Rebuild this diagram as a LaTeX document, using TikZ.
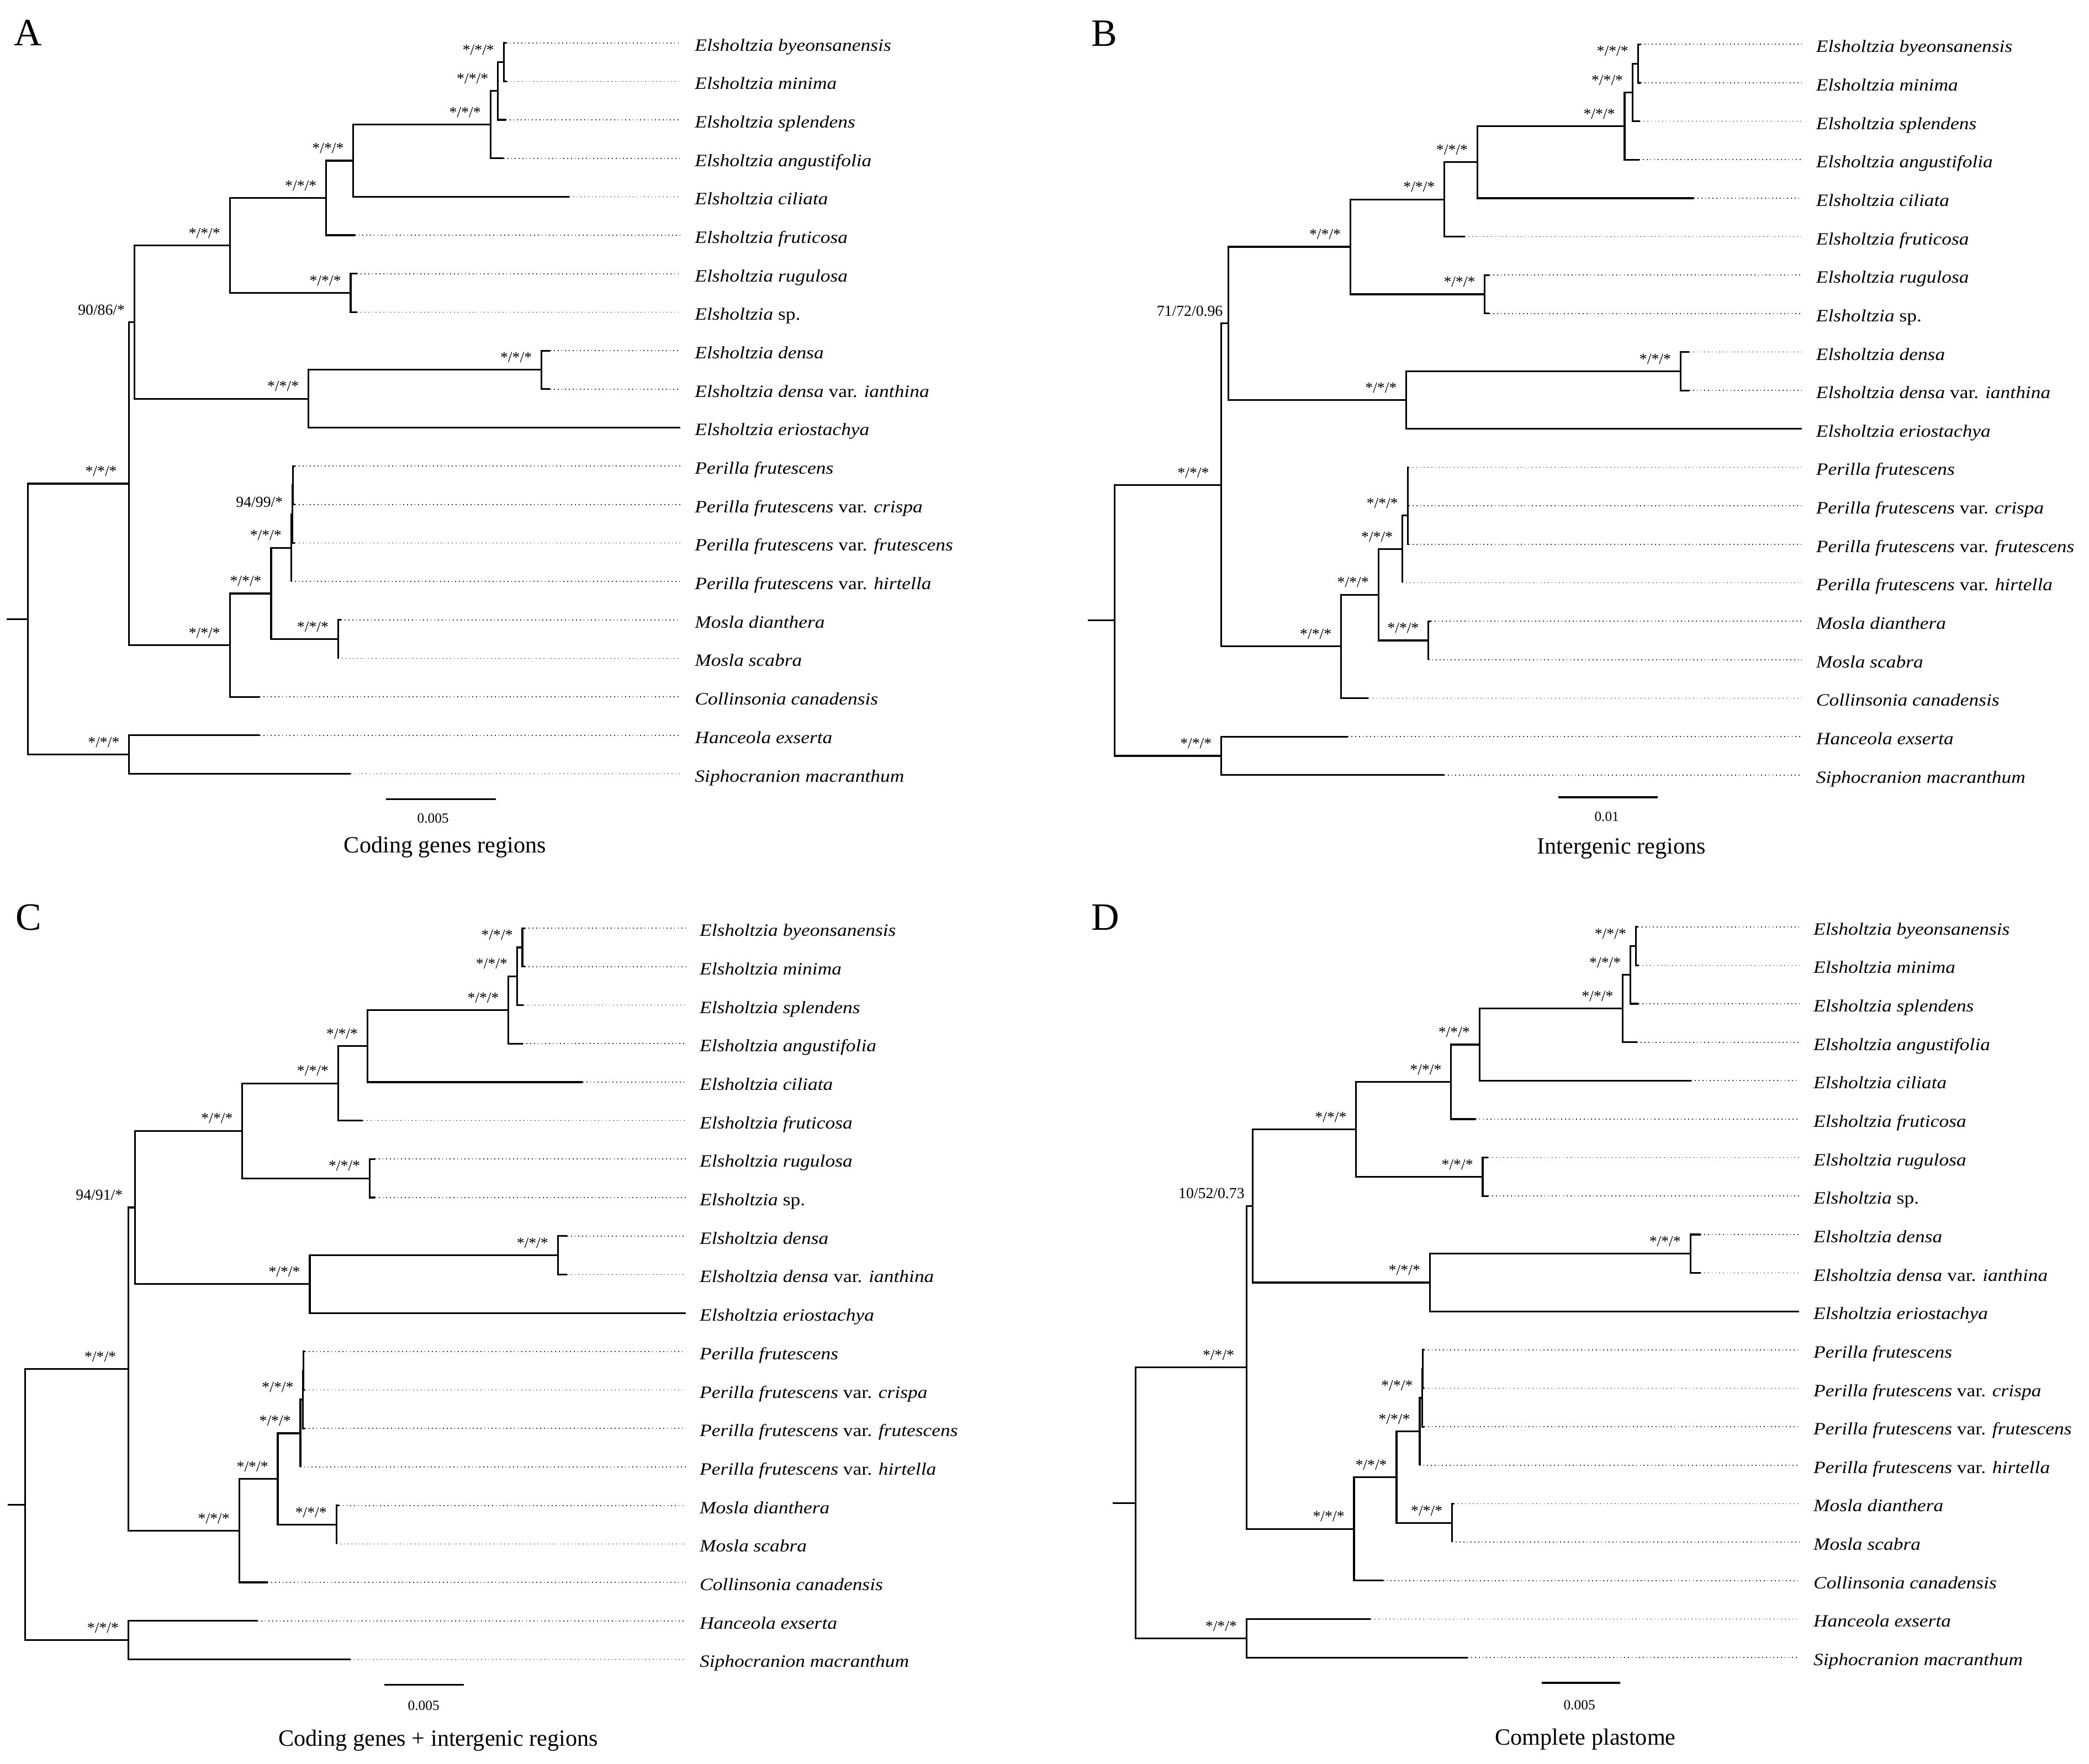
\documentclass[tikz,border=0pt]{standalone}
\usepackage{fontspec}
\setmainfont{Liberation Serif}
\newfontfamily\taxf[FakeStretch=1.13]{Liberation Serif}
\usetikzlibrary{calc}

\newcommand\ti[1]{{\itshape #1}}
\newcommand\taxname[1]{\ifcase#1\or
\ti{Elsholtzia byeonsanensis}\or
\ti{Elsholtzia minima}\or
\ti{Elsholtzia splendens}\or
\ti{Elsholtzia angustifolia}\or
\ti{Elsholtzia ciliata}\or
\ti{Elsholtzia fruticosa}\or
\ti{Elsholtzia rugulosa}\or
\ti{Elsholtzia} sp.\or
\ti{Elsholtzia densa}\or
\ti{Elsholtzia densa} var. \ti{ianthina}\or
\ti{Elsholtzia eriostachya}\or
\ti{Perilla frutescens}\or
\ti{Perilla frutescens} var. \ti{crispa}\or
\ti{Perilla frutescens} var. \ti{frutescens}\or
\ti{Perilla frutescens} var. \ti{hirtella}\or
\ti{Mosla dianthera}\or
\ti{Mosla scabra}\or
\ti{Collinsonia canadensis}\or
\ti{Hanceola exserta}\or
\ti{Siphocranion macranthum}\fi}

% tip: name, branch end x, y, dotted end x, label x, text
\newcommand\tipd[6]{%
  \coordinate (#1) at (#2,#3);
  \coordinate (#1e) at (#4,#3);
  \draw[dl] (#1) -- (#1e);
  \node[tx] (#1l) at (#5,#3) {#6};}
% clade: parent, child1, child2
\newcommand\clade[3]{\draw[br] (#2) -| (#1) |- (#3);}
% support label
\newcommand\supl[3][-7pt]{\node[sup, xshift=#1] (#2s) at (#2) {#3};}

% prefix, Elsholtzia label, its xshift, Perilla label
\newcommand\treeedges[4]{%
  \clade{#1E6}{#11}{#12}
  \clade{#1E5}{#1E6}{#13}
  \clade{#1E4}{#1E5}{#14}
  \clade{#1E3}{#1E4}{#15}
  \clade{#1E2}{#1E3}{#16}
  \clade{#1E7}{#17}{#18}
  \clade{#1E1}{#1E2}{#1E7}
  \clade{#1E9}{#19}{#110}
  \clade{#1E8}{#1E9}{#111}
  \clade{#1El}{#1E1}{#1E8}
  \clade{#1Pc}{#112}{#113}
  \clade{#1Pb}{#1Pc}{#114}
  \clade{#1Pa}{#1Pb}{#115}
  \clade{#1M}{#116}{#117}
  \clade{#1P1}{#1Pa}{#1M}
  \clade{#1P0}{#1P1}{#118}
  \clade{#1I}{#1El}{#1P0}
  \clade{#1O}{#119}{#120}
  \clade{#1R}{#1I}{#1O}
  \draw[br] (#1Rs) -- (#1R);
  \supl{#1E6}{*/*/*}
  \supl{#1E5}{*/*/*}
  \supl{#1E4}{*/*/*}
  \supl{#1E3}{*/*/*}
  \supl{#1E2}{*/*/*}
  \supl{#1E1}{*/*/*}
  \supl{#1E7}{*/*/*}
  \supl{#1E9}{*/*/*}
  \supl{#1E8}{*/*/*}
  \supl[#3]{#1El}{#2}
  \supl{#1Pb}{#4}
  \supl{#1Pa}{*/*/*}
  \supl{#1M}{*/*/*}
  \supl{#1P1}{*/*/*}
  \supl{#1P0}{*/*/*}
  \supl[-9pt]{#1I}{*/*/*}
  \supl{#1O}{*/*/*}
}

\begin{document}
\begin{tikzpicture}[x=1pt,y=-1pt,
  br/.style={line width=1.3pt},
  dl/.style={line width=0.7pt, black!80, dash pattern=on 0.7pt off 2.1pt},
  tx/.style={anchor=base west, inner sep=0pt, yshift=-6pt, font=\taxf\fontsize{13}{15}\selectfont},
  sup/.style={anchor=base east, inner sep=0pt, yshift=5.5pt, font=\fontsize{11.5}{13}\selectfont},
  bar/.style={line width=1.5pt},
  sclab/.style={anchor=base, inner sep=0pt, font=\fontsize{10.5}{12}\selectfont},
  ttl/.style={anchor=base, inner sep=0pt, font=\fontsize{17.5}{20}\selectfont},
  plab/.style={anchor=base west, inner sep=0pt, font=\fontsize{29}{32}\selectfont}]
\useasboundingbox (0,0) rectangle (1568,1324);

%%%%%%%%%%%%%%%% Panel A
\node[plab] (labA) at (10.4,34.3) {A};
\foreach \i/\xb in {1/380.0,2/380.5,3/379.7,4/378.1,5/427.4,6/266.5,7/268,8/268,9/413,10/413,11/510.6,12/221.5,13/221.5,14/221.5,15/218.5,16/256,17/253.8,18/194.9,19/194.9,20/263.2}{
  \pgfmathsetmacro\yy{32.2+28.88*(\i-1)}
  \tipd{a\i}{\xb}{\yy}{510.6}{521.4}{\taxname{\i}}}
\coordinate (aE6) at (378.1,46.65);
\coordinate (aE5) at (373.7,68.3);
\coordinate (aE4) at (368.1,93.55);
\coordinate (aE3) at (265.2,120.6);
\coordinate (aE2) at (244.8,148.6);
\coordinate (aE7) at (263.2,219.95);
\coordinate (aE1) at (172.5,184.3);
\coordinate (aE9) at (406.4,277.65);
\coordinate (aE8) at (231.5,299.3);
\coordinate (aEl) at (100.9,241.8);
\coordinate (aPc) at (219.8,364.35);
\coordinate (aPb) at (219.5,386.0);
\coordinate (aPa) at (218.5,411.25);
\coordinate (aM) at (253.8,479.85);
\coordinate (aP1) at (203.5,445.55);
\coordinate (aP0) at (172.5,484.4);
\coordinate (aI) at (96.9,363.1);
\coordinate (aO) at (96.9,566.45);
\coordinate (aR) at (21.0,464.8);
\coordinate (aRs) at (5.0,464.8);
\treeedges{a}{90/86/*}{-7pt}{94/99/*}
\coordinate (asb1) at (289.8,600);
\coordinate (asb2) at (372.1,600);
\draw[bar] (asb1) -- (asb2);
\node[sclab] (asbl) at (325,617.6) {0.005};
\node[ttl] (attl) at (334,640.1) {Coding genes regions};

%%%%%%%%%%%%%%%% Panel B
\node[plab] (labB) at (819,34.7) {B};
\foreach \i/\xb in {1/1231.5,2/1231.5,3/1230.8,4/1230.4,5/1271.4,6/1099.5,7/1118,8/1118,9/1268,10/1268,11/1352.6,12/1057.5,13/1057.5,14/1057.5,15/1052.6,16/1074,17/1072.2,18/1027.2,19/1011.6,20/1083.9}{
  \pgfmathsetmacro\yy{33.3+28.87*(\i-1)}
  \tipd{b\i}{\xb}{\yy}{1352.6}{1363}{\taxname{\i}}}
\coordinate (bE6) at (1229.4,47.75);
\coordinate (bE5) at (1225.4,69.4);
\coordinate (bE4) at (1219.4,94.65);
\coordinate (bE3) at (1108.9,121.7);
\coordinate (bE2) at (1084.2,149.7);
\coordinate (bE7) at (1114.5,220.95);
\coordinate (bE1) at (1013.6,185.3);
\coordinate (bE9) at (1261.4,278.7);
\coordinate (bE8) at (1055.6,300.35);
\coordinate (bEl) at (922.0,242.8);
\coordinate (bPc) at (1056.8,365.3);
\coordinate (bPb) at (1056.6,386.95);
\coordinate (bPa) at (1052.6,412.2);
\coordinate (bM) at (1072.2,480.8);
\coordinate (bP1) at (1034.6,446.5);
\coordinate (bP0) at (1006.6,485.3);
\coordinate (bI) at (916.7,364.05);
\coordinate (bO) at (916.7,567.4);
\coordinate (bR) at (836.7,465.7);
\coordinate (bRs) at (816.4,465.7);
\treeedges{b}{71/72/0.96}{-4pt}{*/*/*}
\coordinate (bsb1) at (1169.8,598.6);
\coordinate (bsb2) at (1244.4,598.6);
\draw[bar] (bsb1) -- (bsb2);
\node[sclab] (bsbl) at (1206,616.5) {0.01};
\node[ttl] (bttl) at (1217,641) {Intergenic regions};

%%%%%%%%%%%%%%%% Panel C
\node[plab] (labC) at (11.7,698.4) {C};
\foreach \i/\xb in {1/394,2/394,3/393,4/392.4,5/437.4,6/272.5,7/281.5,8/281.5,9/425.7,10/425.7,11/514.6,12/229,13/229,14/229,15/225.5,16/254.5,17/252.5,18/200.9,19/193.2,20/263.1}{
  \pgfmathsetmacro\yy{696.8+28.89*(\i-1)}
  \tipd{c\i}{\xb}{\yy}{514.6}{525}{\taxname{\i}}}
\coordinate (cE6) at (392.1,711.25);
\coordinate (cE5) at (388.1,732.9);
\coordinate (cE4) at (381.7,758.2);
\coordinate (cE3) at (275.8,785.3);
\coordinate (cE2) at (253.8,813.3);
\coordinate (cE7) at (277.5,884.55);
\coordinate (cE1) at (181.9,848.9);
\coordinate (cE9) at (418.7,942.35);
\coordinate (cE8) at (232.5,964.0);
\coordinate (cEl) at (101.3,906.45);
\coordinate (cPc) at (227.7,1029.05);
\coordinate (cPb) at (227.5,1050.7);
\coordinate (cPa) at (225.5,1076.0);
\coordinate (cM) at (252.5,1144.6);
\coordinate (cP1) at (208.5,1110.3);
\coordinate (cP0) at (179.5,1149.1);
\coordinate (cI) at (96.3,1027.8);
\coordinate (cO) at (96.3,1231.25);
\coordinate (cR) at (19.0,1129.5);
\coordinate (cRs) at (6.0,1129.5);
\treeedges{c}{94/91/*}{-9pt}{*/*/*}
\coordinate (csb1) at (288.5,1264.8);
\coordinate (csb2) at (348.1,1264.8);
\draw[bar] (csb1) -- (csb2);
\node[sclab] (csbl) at (318,1284) {0.005};
\node[ttl] (cttl) at (329,1311) {Coding genes + intergenic regions};

%%%%%%%%%%%%%%%% Panel D
\node[plab] (labD) at (819,698.4) {D};
\foreach \i/\xb in {1/1229.5,2/1230,3/1229.8,4/1228.8,5/1269.4,6/1107.5,7/1117.2,8/1117.2,9/1276.4,10/1276.4,11/1350.5,12/1069,13/1069,14/1069,15/1065.6,16/1091.5,17/1089.9,18/1038.2,19/1028.9,20/1101.5}{
  \pgfmathsetmacro\yy{695.8+28.87*(\i-1)}
  \tipd{d\i}{\xb}{\yy}{1350.5}{1361}{\taxname{\i}}}
\coordinate (dE6) at (1227.8,710.25);
\coordinate (dE5) at (1223.8,731.9);
\coordinate (dE4) at (1218.1,757.15);
\coordinate (dE3) at (1110.5,784.2);
\coordinate (dE2) at (1089.2,812.2);
\coordinate (dE7) at (1112.9,883.45);
\coordinate (dE1) at (1017.9,847.8);
\coordinate (dE9) at (1268.8,941.2);
\coordinate (dE8) at (1073.2,962.85);
\coordinate (dEl) at (940.3,905.3);
\coordinate (dPc) at (1067.8,1027.8);
\coordinate (dPb) at (1067.6,1049.45);
\coordinate (dPa) at (1065.6,1074.7);
\coordinate (dM) at (1089.9,1143.3);
\coordinate (dP1) at (1048.2,1109.0);
\coordinate (dP0) at (1016.3,1147.8);
\coordinate (dI) at (935.6,1026.55);
\coordinate (dO) at (935.6,1229.95);
\coordinate (dR) at (852.4,1128.25);
\coordinate (dRs) at (835.0,1128.25);
\treeedges{d}{10/52/0.73}{-6pt}{*/*/*}
\coordinate (dsb1) at (1157.2,1263.4);
\coordinate (dsb2) at (1216.1,1263.4);
\draw[bar] (dsb1) -- (dsb2);
\node[sclab] (dsbl) at (1185.5,1283.5) {0.005};
\node[ttl] (dttl) at (1190,1310) {Complete plastome};
\end{tikzpicture}
\end{document}
